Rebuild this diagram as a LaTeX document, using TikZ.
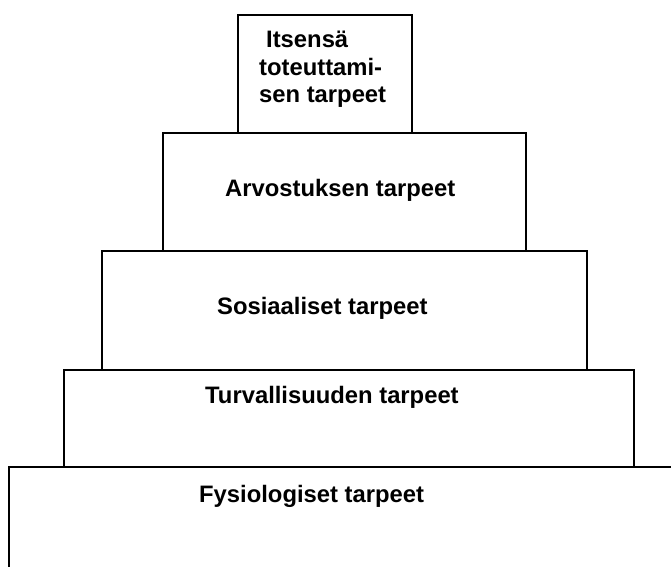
\documentclass[tikz,border=0pt]{standalone}
\usepackage{fontspec}
\setmainfont{Liberation Sans}
\begin{document}
\begin{tikzpicture}[x=1pt,y=-1pt,
  level/.style={draw=black, line width=2pt, fill=white, rectangle, outer sep=0pt, inner sep=0pt, anchor=north west},
  lbl/.style={anchor=base west, inner sep=0pt, font=\bfseries\fontsize{23.8}{27.5}\selectfont}]
\useasboundingbox (0,0) rectangle (671,566);
\clip (0,0) rectangle (671,566);
% levels, bottom first
\node[level, minimum width=700pt, minimum height=130pt] (l5) at (9,467) {};
\node[level, minimum width=570pt, minimum height=97pt] (l4) at (64,370) {};
\node[level, minimum width=485pt, minimum height=119pt] (l3) at (102,251) {};
\node[level, minimum width=363pt, minimum height=118pt] (l2) at (163,133) {};
\node[level, minimum width=174pt, minimum height=118pt] (l1) at (238,15) {};
% labels
\node[lbl] (t1a) at (266,47) {Itsensä};
\node[lbl] (t1b) at (259,75) {toteuttami-};
\node[lbl] (t1c) at (259,102) {sen tarpeet};
\node[lbl] (t2) at (225,196) {Arvostuksen tarpeet};
\node[lbl] (t3) at (217,314) {Sosiaaliset tarpeet};
\node[lbl] (t4) at (205,403) {Turvallisuuden tarpeet};
\node[lbl] (t5) at (199,502) {Fysiologiset tarpeet};
\end{tikzpicture}
\end{document}
